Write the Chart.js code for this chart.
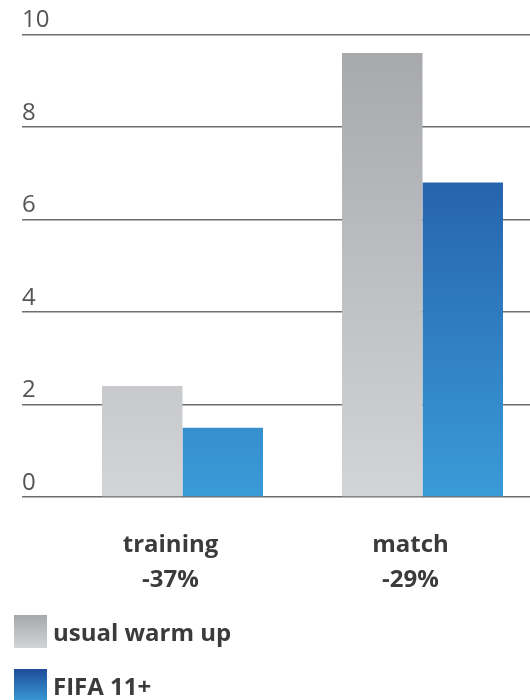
<!DOCTYPE html>
<html lang="en">
<head>
  <meta charset="UTF-8">
  <title>usual warm up vs FIFA 11+</title>
  <script src="https://cdn.jsdelivr.net/npm/chart.js"></script>
  <style>
    body { margin: 0; background: #fff; font-family: 'Open Sans', sans-serif; }
    #wrap { position: relative; width: 530px; height: 700px; overflow: hidden; }
    #chart-box { position: absolute; left: 0; top: 0; width: 530px; height: 700px; }
    .legend-row { position: absolute; left: 14px; height: 33px; display: flex; align-items: center;
                  font-weight: bold; font-size: 24px; color: #3b3b3b; line-height: 33px; }
    .swatch { width: 33px; height: 33px; margin-right: 6px; }
    #lg-gray { top: 615px; }
    #lg-blue { top: 669px; }
    #lg-gray .swatch { background: linear-gradient(#a7a8ac, #d3d4d6); }
    #lg-blue .swatch { background: linear-gradient(#1e4d9a, #3a9ad6); }
  </style>
</head>
<body>
  <div id="wrap">
    <div id="chart-box"><canvas id="resultChart"></canvas></div>
    <div class="legend-row" id="lg-gray"><span class="swatch"></span><span>usual warm up</span></div>
    <div class="legend-row" id="lg-blue"><span class="swatch"></span><span>FIFA 11+</span></div>
  </div>

  <script>
    // data
    const categories = ["training", "match"];
    const reductions = ["-37%", "-29%"];
    const usualWarmUp = [2.4, 9.6];
    const fifa11 = [1.5, 6.8];
    const yTicks = [0, 2, 4, 6, 8, 10];

    // vertical gradient over the whole plot area (same as the original)
    function grad(chart, top, bottom) {
      const area = chart.chartArea;
      if (!area) return bottom;
      const g = chart.ctx.createLinearGradient(0, area.top, 0, area.bottom);
      g.addColorStop(0, top);
      g.addColorStop(1, bottom);
      return g;
    }

    const toPoints = vals => vals.map((v, i) => ({ x: i + 1, y: v }));

    new Chart(document.getElementById("resultChart"), {
      type: "bar",
      data: {
        datasets: [
          {
            label: "usual warm up",
            data: toPoints(usualWarmUp),
            backgroundColor: c => grad(c.chart, "#a6a7ab", "#d3d4d6")
          },
          {
            label: "FIFA 11+",
            data: toPoints(fifa11),
            backgroundColor: c => grad(c.chart, "#1d4a99", "#3a9bd7")
          }
        ]
      },
      options: {
        responsive: true,
        maintainAspectRatio: false,
        animation: false,
        categoryPercentage: 0.6708,
        barPercentage: 1,
        layout: { padding: { left: 22, top: 34.5, right: 0, bottom: 0 } },
        plugins: { legend: { display: false }, tooltip: { enabled: false } },
        scales: {
          x: {
            type: "linear",
            offset: false,
            min: 0.33125,
            max: 2.447917,
            afterBuildTicks: s => { s.ticks = categories.map((c, i) => ({ value: i + 1 })); },
            afterFit: s => { s.height = 203; },
            grid: { display: false, offset: false },
            border: { display: false },
            ticks: {
              maxRotation: 0,
              autoSkip: false,
              padding: 23,
              labelOffset: -12,
              color: "#3b3b3b",
              font: { family: "'Open Sans', sans-serif", size: 24, weight: "bold", lineHeight: 1.46 },
              callback: v => [categories[v - 1], reductions[v - 1]]
            }
          },
          y: {
            min: 0,
            max: 10,
            afterBuildTicks: s => { s.ticks = yTicks.map(v => ({ value: v })); },
            afterFit: s => { s.width = 0; },
            border: { display: false },
            grid: { color: "#6e6e6e", lineWidth: 1.5, drawTicks: false },
            ticks: {
              mirror: true,
              padding: 0,
              labelOffset: -14,
              color: "#555555",
              font: { family: "'Open Sans', sans-serif", size: 24, weight: "normal" }
            }
          }
        }
      }
    });
  </script>
</body>
</html>
